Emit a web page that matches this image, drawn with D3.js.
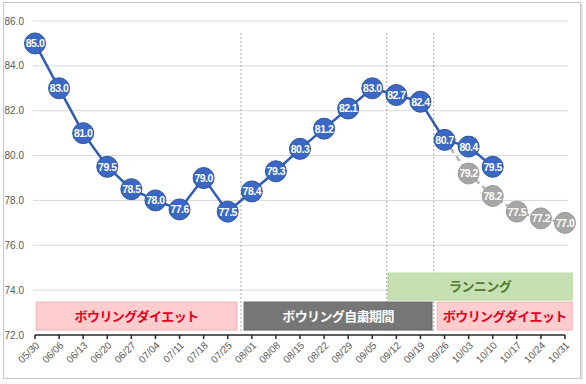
<!DOCTYPE html>
<html><head><meta charset="utf-8">
<script src="https://cdn.jsdelivr.net/npm/d3@7"></script>
<style>body{margin:0;background:#fff}svg{display:block}</style>
</head><body><svg id="c" width="586" height="384"></svg>
<script>
const categories = ["05/30","06/06","06/13","06/20","06/27","07/04","07/11","07/18","07/25","08/01","08/08","08/15","08/22","08/29","09/05","09/12","09/19","09/26","10/03","10/10","10/17","10/24","10/31"];
const actual = [85.0,83.0,81.0,79.5,78.5,78.0,77.6,79.0,77.5,78.4,79.3,80.3,81.2,82.1,83.0,82.7,82.4,80.7,80.4,79.5];
const forecastStart = 17;
const forecast = [80.7,79.2,78.2,77.5,77.2,77.0];
const yTicks = [72,74,76,78,80,82,84,86];
const dividers = [8.55,14.6,16.55];
const bandLabels = ["ボウリングダイエット","ボウリング自粛期間","ランニング","ボウリングダイエット"];
const bandStart = [0.05,8.68,14.65,16.7];
const bandEnd = [8.38,16.48,22.3,22.3];
const bandLow = [72.22,72.22,73.56,72.22];
const bandHigh = [73.47,73.47,74.76,73.47];
const bandKind = ["pink","gray","green","pink"];

const svg = d3.select("#c");
svg.append("rect").attr("x",3.5).attr("y",2.5).attr("width",577).attr("height",376).attr("fill","#fff").attr("stroke","#c8c8c8");
svg.append("line").attr("x1",582).attr("x2",582).attr("y1",4).attr("y2",380).attr("stroke","#e4e4e4").attr("stroke-width",2);

const x0=35,x1=565;
const xi = d3.scaleLinear().domain([0,categories.length-1]).range([x0,x1]);
const y = d3.scaleLinear().domain([72,86]).range([335,21]);

svg.append("g").selectAll("line").data(yTicks.filter(v=>v>72)).join("line")
 .attr("x1",33).attr("x2",568).attr("y1",d=>y(d)).attr("y2",d=>y(d))
 .attr("stroke","#d9d9d9").attr("stroke-width",1);

svg.append("g").selectAll("text").data(yTicks).join("text")
 .attr("x",24).attr("y",d=>y(d)+3.5).attr("text-anchor","end")
 .attr("font-family","Liberation Sans, Arial, sans-serif").attr("font-size",10).attr("fill","#595959")
 .text(d=>d.toFixed(1));

svg.append("g").selectAll("line").data(dividers).join("line")
 .attr("x1",d=>xi(d)).attr("x2",d=>xi(d)).attr("y1",33).attr("y2",331)
 .attr("stroke","#a6a6a6").attr("stroke-width",1).attr("stroke-dasharray","2,2");

const style = {pink:{fill:"#ffcdcd",stroke:"#f0b4b4",text:"#e4001c"},gray:{fill:"#767676",stroke:"#666",text:"#fff"},green:{fill:"#c6e0b4",stroke:"#b4d49c",text:"#4e7a2c"}};
const bands = bandLabels.map((t,i)=>({t,s:bandStart[i],e:bandEnd[i],lo:bandLow[i],hi:bandHigh[i],k:bandKind[i]}));
const bg = svg.append("g").selectAll("g").data(bands).join("g");
bg.append("rect").attr("x",d=>xi(d.s)).attr("width",d=>xi(d.e)-xi(d.s)).attr("y",d=>y(d.hi)).attr("height",d=>y(d.lo)-y(d.hi))
 .attr("fill",d=>style[d.k].fill).attr("stroke",d=>style[d.k].stroke);
bg.append("text").attr("x",d=>(xi(d.s)+xi(d.e))/2).attr("y",d=>(y(d.hi)+y(d.lo))/2+4.8).attr("text-anchor","middle")
 .attr("font-family","Noto Sans CJK JP, sans-serif").attr("font-weight","bold").attr("font-size",13).attr("letter-spacing",-0.6)
 .attr("fill",d=>style[d.k].text).text(d=>d.t);

const xa = svg.append("g");
xa.append("line").attr("x1",x0).attr("x2",x1).attr("y1",335).attr("y2",335).attr("stroke","#262626").attr("stroke-width",1.5);
xa.selectAll("line.t").data(categories).join("line").attr("class","t")
 .attr("x1",(d,i)=>xi(i)).attr("x2",(d,i)=>xi(i)).attr("y1",335).attr("y2",339).attr("stroke","#262626").attr("stroke-width",1.5);
xa.selectAll("text").data(categories).join("text")
 .attr("transform",(d,i)=>`translate(${xi(i)+5},${346}) rotate(-45)`).attr("text-anchor","end")
 .attr("font-family","Liberation Sans, Arial, sans-serif").attr("font-size",10).attr("fill","#595959")
 .text(d=>d);

const fpts = forecast.map((v,i)=>({i:i+forecastStart,v}));
const line = d3.line().x(d=>xi(d.i)).y(d=>y(d.v));
svg.append("path").datum(fpts).attr("d",line).attr("fill","none").attr("stroke","#b4b4b4").attr("stroke-width",2.5).attr("stroke-dasharray","6,4");
const fg = svg.append("g").selectAll("g").data(fpts.slice(1)).join("g").attr("transform",d=>`translate(${xi(d.i)},${y(d.v)})`);
fg.append("circle").attr("r",10.5).attr("fill","#a6a6a6").attr("stroke","#9a9a9a");
fg.append("text").attr("y",3.9).attr("text-anchor","middle").attr("font-family","Liberation Sans, Arial, sans-serif").attr("font-weight","bold").attr("font-size",10.5).attr("letter-spacing",-0.5).attr("fill","#fff").text(d=>d.v.toFixed(1));

const apts = actual.map((v,i)=>({i,v}));
svg.append("path").datum(apts).attr("d",line).attr("fill","none").attr("stroke","#2f5cb4").attr("stroke-width",2.5);
const ag = svg.append("g").selectAll("g").data(apts).join("g").attr("transform",d=>`translate(${xi(d.i)},${y(d.v)})`);
ag.append("circle").attr("r",10.5).attr("fill","#3a68c4").attr("stroke","#2f5597");
ag.append("text").attr("y",3.9).attr("text-anchor","middle").attr("font-family","Liberation Sans, Arial, sans-serif").attr("font-weight","bold").attr("font-size",10.5).attr("letter-spacing",-0.5).attr("fill","#fff").text(d=>d.v.toFixed(1));
</script></body></html>
